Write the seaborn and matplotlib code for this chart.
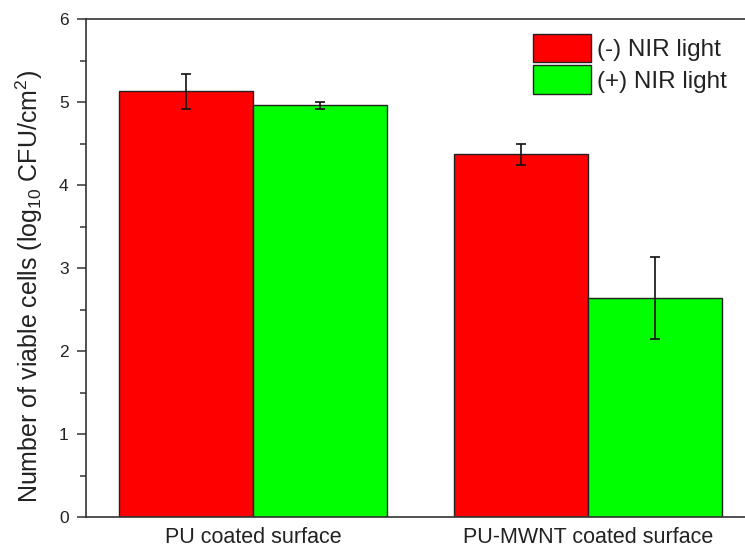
import matplotlib
matplotlib.use("Agg")
import matplotlib.pyplot as plt
import seaborn as sns
import pandas as pd
from matplotlib.ticker import MultipleLocator
from matplotlib.patches import Patch

groups = ["PU coated surface", "PU-MWNT coated surface"]
conditions = ["(-) NIR light", "(+) NIR light"]
values_minus = [5.13, 4.37]
values_plus = [4.96, 2.64]
err_minus = [0.21, 0.125]
err_plus = [0.04, 0.49]
colors = ["#ff0000", "#00ff00"]

sns.set_style("ticks")
plt.rcParams["font.family"] = ["Liberation Sans", "DejaVu Sans"]
plt.rcParams["mathtext.default"] = "regular"

df = pd.DataFrame({
    "group": groups * 2,
    "condition": [conditions[0]] * 2 + [conditions[1]] * 2,
    "value": values_minus + values_plus,
    "err": err_minus + err_plus,
})

fig = plt.figure(figsize=(7.45, 5.48), dpi=100)
ax = fig.add_axes([86 / 745, 31 / 548, 669 / 745, 498 / 548])

sns.barplot(data=df, x="group", y="value", hue="condition", order=groups,
            hue_order=conditions, palette=colors, errorbar=None,
            edgecolor="#222222", linewidth=1.0, saturation=1, ax=ax, legend=False)

# error bars on bar centres
for patch_list, cond in zip([ax.patches[:2], ax.patches[2:4]], conditions):
    sub = df[df["condition"] == cond].set_index("group").loc[groups]
    xs = [p.get_x() + p.get_width() / 2 for p in patch_list]
    ax.errorbar(xs, sub["value"], yerr=sub["err"], fmt="none",
                ecolor="#111111", elinewidth=1.2, capsize=3.8, capthick=1.2)

ax.set_xlim(-0.5, 1.5)
ax.set_ylim(0, 6)
ax.yaxis.set_major_locator(MultipleLocator(1))
ax.yaxis.set_minor_locator(MultipleLocator(0.5))
ax.tick_params(axis="y", which="major", direction="out", length=6.5, width=1.1,
               labelsize=12.5, colors="#333333", labelcolor="#222222", pad=6)
ax.tick_params(axis="y", which="minor", direction="out", length=4.3, width=1.1,
               colors="#333333")
ax.tick_params(axis="x", length=0, labelsize=15.5, pad=7, labelcolor="#222222")
ax.set_xlabel("")
ax.set_ylabel("Number of viable cells (log$_{10}$ CFU/cm$^{2}$)", fontsize=18,
              labelpad=9.8, color="#222222")
ax.yaxis.label.set_y(0.463)
for s in ["left", "top", "bottom", "right"]:
    ax.spines[s].set_visible(True)
    ax.spines[s].set_linewidth(1.2)
    ax.spines[s].set_color("#333333")

handles = [Patch(facecolor=c, edgecolor="#222222", linewidth=1.0) for c in colors]
ax.legend(handles, conditions, loc="upper left", bbox_to_anchor=(447 / 669, 0.97),
          frameon=False, fontsize=17.5, handlelength=2.4, handleheight=1.43,
          labelspacing=0.12, handletextpad=0.25, borderaxespad=0, borderpad=0,
          labelcolor="#222222")

fig.savefig("out.png", dpi=100)
